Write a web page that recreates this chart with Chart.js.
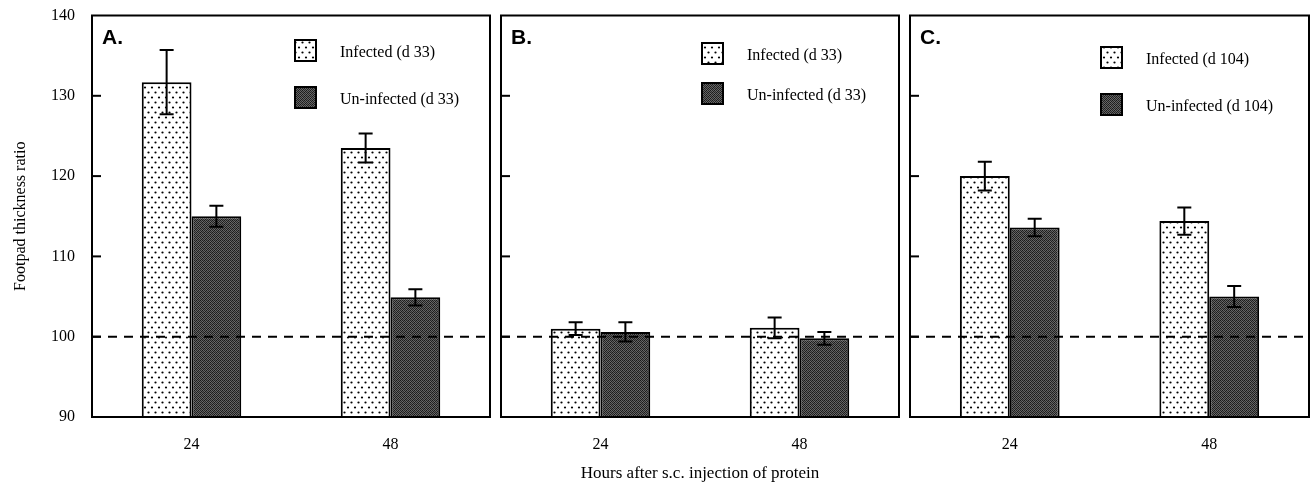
<!DOCTYPE html>
<html lang="en">
<head>
<meta charset="UTF-8">
<title>Footpad thickness ratio</title>
<style>
  body { margin: 0; background: #fff; }
  .wrap { position: relative; width: 1310px; height: 486px; }
  .wrap canvas { position: absolute; left: 0; top: 0; }
</style>
</head>
<body>
<div class="wrap">
  <canvas id="panelA" width="1310" height="486"></canvas>
  <canvas id="panelB" width="1310" height="486"></canvas>
  <canvas id="panelC" width="1310" height="486"></canvas>
</div>
<script src="https://cdn.jsdelivr.net/npm/chart.js@4"></script>
<script>
// hours after injection (categories)
const hours = ['24', '48'];
const yTicks = [90, 100, 110, 120, 130, 140];
const baseline = 100;

// panel A (d 33)
const infA = [131.7, 123.5];
const infAErr = [4.0, 1.8];
const uninfA = [115.0, 104.9];
const uninfAErr = [1.3, 1.0];
// panel B (d 33)
const infB = [101.0, 101.1];
const infBErr = [0.8, 1.3];
const uninfB = [100.6, 99.8];
const uninfBErr = [1.2, 0.8];
// panel C (d 104)
const infC = [120.0, 114.4];
const infCErr = [1.8, 1.7];
const uninfC = [113.6, 105.0];
const uninfCErr = [1.1, 1.3];

const serif = '"Liberation Serif", "Times New Roman", serif';

function dotPattern() {
    const c = document.createElement('canvas');
    c.width = 7; c.height = 10;
    const g = c.getContext('2d');
    g.fillStyle = '#fff';
    g.fillRect(0, 0, 7, 10);
    g.fillStyle = '#000';
    g.beginPath(); g.arc(1.5, 2.5, 1.1, 0, Math.PI * 2); g.fill();
    g.beginPath(); g.arc(5, 7.5, 1.1, 0, Math.PI * 2); g.fill();
    return g.createPattern(c, 'repeat');
}

function darkPattern() {
    const shades = [
        [25, 100, 35, 90],
        [95, 40, 110, 30],
        [38, 100, 24, 105],
        [104, 28, 92, 45]
    ];
    const c = document.createElement('canvas');
    c.width = 4; c.height = 4;
    const g = c.getContext('2d');
    shades.forEach((row, y) => row.forEach((v, x) => {
        g.fillStyle = `rgb(${v},${v},${v})`;
        g.fillRect(x, y, 1, 1);
    }));
    return g.createPattern(c, 'repeat');
}

const dots = dotPattern();
const dark = darkPattern();

// frame, inward ticks, dashed 100 line, error bars, legend and panel tag
const panelDecor = {
    id: 'panelDecor',
    afterDatasetsDraw(chart, args, opts) {
        const ctx = chart.ctx;
        const area = chart.chartArea;
        const y = chart.scales.y;
        ctx.save();

        // dashed reference line
        const yb = y.getPixelForValue(baseline);
        ctx.strokeStyle = '#000';
        ctx.lineWidth = 2;
        ctx.setLineDash([9, 7]);
        ctx.beginPath();
        ctx.moveTo(area.left, yb);
        ctx.lineTo(area.right, yb);
        ctx.stroke();
        ctx.setLineDash([]);

        // error bars
        chart.data.datasets.forEach((ds, i) => {
            const meta = chart.getDatasetMeta(i);
            meta.data.forEach((bar, j) => {
                const hi = y.getPixelForValue(ds.data[j] + ds.errors[j]);
                const lo = y.getPixelForValue(ds.data[j] - ds.errors[j]);
                ctx.beginPath();
                ctx.moveTo(bar.x, hi); ctx.lineTo(bar.x, lo);
                ctx.moveTo(bar.x - 7, hi); ctx.lineTo(bar.x + 7, hi);
                ctx.moveTo(bar.x - 7, lo); ctx.lineTo(bar.x + 7, lo);
                ctx.stroke();
            });
        });

        // frame
        ctx.strokeRect(area.left, area.top, area.right - area.left, area.bottom - area.top);

        // inward ticks
        yTicks.slice(1, -1).forEach(v => {
            const py = y.getPixelForValue(v);
            ctx.beginPath();
            ctx.moveTo(area.left, py);
            ctx.lineTo(area.left + 9, py);
            ctx.stroke();
        });

        // legend
        chart.data.datasets.forEach((ds, i) => {
            const bx = area.left + opts.legendX;
            const by = opts.legendY[i];
            ctx.fillStyle = ds.backgroundColor;
            ctx.fillRect(bx, by, 21, 21);
            ctx.lineWidth = 2;
            ctx.strokeRect(bx, by, 21, 21);
            ctx.fillStyle = '#000';
            ctx.font = '16px ' + serif;
            ctx.textBaseline = 'middle';
            ctx.textAlign = 'left';
            ctx.fillText(ds.label, bx + 45, by + 13);
        });

        // panel tag
        ctx.font = 'bold 21px "Liberation Sans", Arial, sans-serif';
        ctx.textBaseline = 'alphabetic';
        ctx.fillText(opts.tag, area.left + 10, 44);
        ctx.restore();
    }
};

function makePanel(id, inf, infErr, uninf, uninfErr, labels, opts) {
    return new Chart(document.getElementById(id), {
        type: 'bar',
        data: {
            labels: hours,
            datasets: [
                { label: labels[0], data: inf, errors: infErr, backgroundColor: dots },
                { label: labels[1], data: uninf, errors: uninfErr, backgroundColor: dark }
            ]
        },
        options: {
            responsive: false,
            animation: false,
            layout: { padding: { left: opts.left, right: opts.right, top: 15.5, bottom: 0 } },
            datasets: {
                bar: {
                    base: 90,
                    borderColor: '#000',
                    borderWidth: 2,
                    categoryPercentage: 0.5,
                    barPercentage: 1.0
                }
            },
            plugins: {
                legend: { display: false },
                tooltip: { enabled: false },
                panelDecor: opts.decor
            },
            scales: {
                x: {
                    grid: { display: false, drawTicks: false },
                    border: { display: false },
                    ticks: { color: '#000', font: { family: serif, size: 16 }, padding: 18 },
                    title: {
                        display: !!opts.xTitle,
                        text: opts.xTitle || '',
                        color: '#000',
                        font: { family: serif, size: 17 },
                        padding: { top: 0, bottom: 2 }
                    },
                    afterFit: s => { s.height = 69; s.paddingLeft = 0; s.paddingRight = 0; }
                },
                y: {
                    display: opts.showY,
                    min: 90,
                    max: 140,
                    grid: { display: false, drawTicks: false },
                    border: { display: false },
                    ticks: { stepSize: 10, color: '#000', font: { family: serif, size: 16 }, padding: 17 },
                    title: {
                        display: opts.showY,
                        text: 'Footpad thickness ratio',
                        color: '#000',
                        font: { family: serif, size: 16 },
                        padding: { top: 11, bottom: 0 }
                    },
                    afterFit: s => {
                        s.width = opts.showY ? 92 : 0;
                        s.paddingTop = 0;
                        s.paddingBottom = 0;
                    }
                }
            }
        },
        plugins: [panelDecor]
    });
}

makePanel('panelA', infA, infAErr, uninfA, uninfAErr,
    ['Infected (d 33)', 'Un-infected (d 33)'],
    { left: 0, right: 820, showY: true, decor: { tag: 'A.', legendX: 203, legendY: [40, 87] } });
makePanel('panelB', infB, infBErr, uninfB, uninfBErr,
    ['Infected (d 33)', 'Un-infected (d 33)'],
    { left: 501, right: 411, showY: false, xTitle: 'Hours after s.c. injection of protein',
      decor: { tag: 'B.', legendX: 201, legendY: [43, 83] } });
makePanel('panelC', infC, infCErr, uninfC, uninfCErr,
    ['Infected (d 104)', 'Un-infected (d 104)'],
    { left: 910, right: 1, showY: false, decor: { tag: 'C.', legendX: 191, legendY: [47, 94] } });
</script>
</body>
</html>
